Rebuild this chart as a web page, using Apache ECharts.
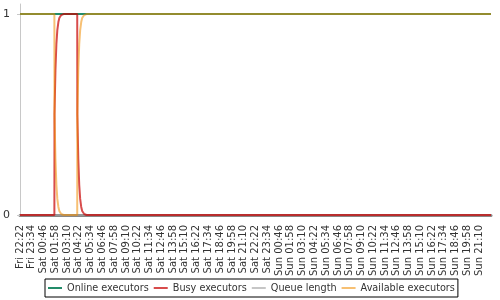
<!DOCTYPE html>
<html>
<head>
<meta charset="utf-8">
<script src="https://cdn.jsdelivr.net/npm/echarts@6/dist/echarts.min.js"></script>
<style>
html,body{margin:0;padding:0;background:#fff;}
#c{width:500px;height:300px;}
</style>
</head>
<body>
<div id="c"></div>
<script>
// Tick labels along the time axis (one per 72 minutes)
const timeLabels = [
  'Fri 22:22','Fri 23:34','Sat 00:46','Sat 01:58','Sat 03:10','Sat 04:22','Sat 05:34','Sat 06:46',
  'Sat 07:58','Sat 09:10','Sat 10:22','Sat 11:34','Sat 12:46','Sat 13:58','Sat 15:10','Sat 16:22',
  'Sat 17:34','Sat 18:46','Sat 19:58','Sat 21:10','Sat 22:22','Sat 23:34','Sun 00:46','Sun 01:58',
  'Sun 03:10','Sun 04:22','Sun 05:34','Sun 06:46','Sun 07:58','Sun 09:10','Sun 10:22','Sun 11:34',
  'Sun 12:46','Sun 13:58','Sun 15:10','Sun 16:22','Sun 17:34','Sun 18:46','Sun 19:58','Sun 21:10'
];
const seriesNames = ['Online executors','Busy executors','Queue length','Available executors'];
const yTicks = [0, 1];

// Series values: [time position (in label steps), value]
const onlineExecutors = [[0,1],[40,1]];
const busyExecutors = [
  [0,0],[2.92,0],[2.93,0.5],[3.01,0.72],[3.09,0.85],[3.17,0.92],[3.26,0.96],[3.34,0.98],[3.5,0.995],[3.7,1],
  [4.86,1],[4.87,0.5],[4.95,0.28],[5.03,0.15],[5.11,0.08],[5.2,0.04],[5.28,0.02],[5.45,0.005],[5.65,0],[40,0]
];
const queueLength = [[0,0],[40,0]];
const availableExecutors = [
  [0,1],[2.92,1],[2.93,0.5],[3.01,0.28],[3.09,0.15],[3.17,0.08],[3.26,0.04],[3.34,0.02],[3.5,0.005],[3.7,0],
  [4.86,0],[4.87,0.5],[4.95,0.72],[5.03,0.85],[5.11,0.92],[5.2,0.96],[5.28,0.98],[5.45,0.995],[5.65,1],[40,1]
];

const colors = {
  online: '#238c69',
  busy: '#c80000',
  queue: '#a0a0a0',
  available: '#f08c00'
};

const FONT = 'DejaVu Sans';
const chart = echarts.init(document.getElementById('c'), null, {renderer: 'canvas'});

function lineSeries(name, data, color, opacity, z) {
  return {
    name: name,
    type: 'line',
    data: data,
    showSymbol: false,
    symbol: 'none',
    smooth: false,
    z: z,
    clip: false,
    animation: false,
    color: color,
    lineStyle: {color: color, width: 2, opacity: opacity},
    itemStyle: {color: color, opacity: opacity}
  };
}

chart.setOption({
  animation: false,
  grid: {left: 18, right: 9, top: 4, bottom: 85, containLabel: false},
  legend: {
    data: seriesNames,
    icon: 'rect',
    left: 45,
    top: 279,
    orient: 'horizontal',
    itemWidth: 14,
    itemHeight: 2,
    itemGap: 5,
    padding: [3, 3],
    borderColor: '#000',
    borderWidth: 1,
    textStyle: {fontFamily: FONT, fontSize: 9.7, color: '#333', lineHeight: 12}
  },
  xAxis: {
    type: 'value',
    min: 0,
    max: 40,
    interval: 1,
    offset: 7,
    axisLine: {show: true, lineStyle: {color: '#888', width: 3}},
    axisTick: {show: false},
    splitLine: {show: false},
    axisLabel: {
      rotate: 90,
      margin: 3,
      fontFamily: FONT,
      fontSize: 10,
      color: '#333',
      showMinLabel: true,
      showMaxLabel: true,
      formatter: function (v) { return timeLabels[Math.round(v)] || ''; }
    }
  },
  yAxis: {
    type: 'value',
    min: 0,
    max: 1.05,
    offset: 4,
    axisLine: {show: true, lineStyle: {color: '#c8c8c8', width: 1}},
    axisTick: {show: true, length: 3, customValues: yTicks, lineStyle: {color: '#c8c8c8'}},
    splitLine: {show: false},
    axisLabel: {
      customValues: yTicks,
      margin: 6,
      fontFamily: FONT,
      fontSize: 11,
      color: '#333'
    }
  },
  series: [
    lineSeries('Queue length', queueLength, colors.queue, 0.6, 1),
    lineSeries('Online executors', onlineExecutors, colors.online, 1, 2),
    lineSeries('Busy executors', busyExecutors, colors.busy, 0.7, 3),
    lineSeries('Available executors', availableExecutors, colors.available, 0.55, 4)
  ]
});
</script>
</body>
</html>
